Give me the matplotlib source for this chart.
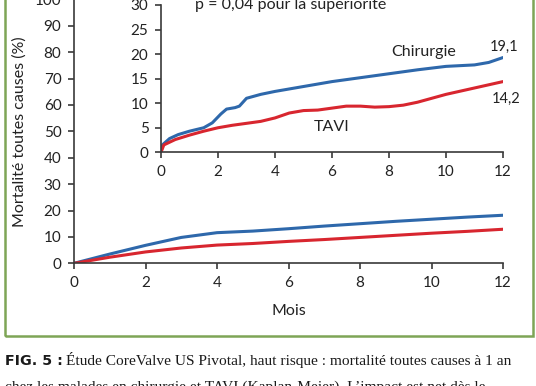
import matplotlib
matplotlib.use("Agg")
import matplotlib.pyplot as plt
from matplotlib.patches import Rectangle

plt.rcParams['font.family'] = ['Lato', 'DejaVu Sans']

# main chart (0-100 %)
months = [0, 1, 2, 3, 4, 5, 6, 7, 8, 9, 10, 11, 12]
chir_main = [0, 3.5, 6.8, 9.8, 11.6, 12.2, 13.1, 14.1, 15.0, 15.9, 16.7, 17.5, 18.2]
tavi_main = [0, 2.3, 4.3, 5.8, 6.9, 7.5, 8.3, 9.0, 9.8, 10.6, 11.4, 12.1, 12.9]

# zoomed inset (0-30 %)
m_chir = [0, 0.05, 0.3, 0.6, 1.0, 1.5, 1.8, 2.1, 2.3, 2.6, 2.75, 3.0, 3.5, 4, 5, 6, 7, 8, 9, 10, 11, 11.5, 12]
chir_ins = [0, 1.5, 2.8, 3.6, 4.3, 5.0, 6.0, 7.8, 8.8, 9.1, 9.4, 11.0, 11.8, 12.4, 13.4, 14.4, 15.2, 16.0, 16.8, 17.5, 17.8, 18.3, 19.3]
m_tavi = [0, 0.1, 0.5, 1, 1.5, 2, 2.5, 3, 3.5, 4, 4.5, 5, 5.5, 6, 6.5, 7, 7.5, 8, 8.5, 9, 10, 11, 12]
tavi_ins = [0, 1.5, 2.6, 3.5, 4.3, 5.0, 5.5, 5.9, 6.3, 7.0, 8.0, 8.5, 8.6, 9.0, 9.4, 9.4, 9.2, 9.3, 9.6, 10.2, 11.8, 13.1, 14.4]

blue = '#2e68ab'
red = '#d8262f'
grey = '#3a3a3a'
txt = '#222222'

fig = plt.figure(figsize=(5.36, 3.86), dpi=100)

# green frame
fig.patches.append(Rectangle((5 / 536, 1 - 336 / 386), 528 / 536, 336 / 386 + 0.05,
                             transform=fig.transFigure, fill=False,
                             edgecolor='#7ea556', linewidth=1.8))

ax = fig.add_axes([74 / 536, (386 - 263.3) / 386, 429 / 536, 264 / 386])
ax.plot(months, chir_main, color=blue, lw=2.2, solid_capstyle='round')
ax.plot(months, tavi_main, color=red, lw=2.2, solid_capstyle='round')
ax.set_xlim(0, 12)
ax.set_ylim(0, 100)
ax.set_xticks(range(0, 13, 2))
ax.set_yticks(range(0, 101, 10))
for s in ['top', 'right']:
    ax.spines[s].set_visible(False)
for s in ['left', 'bottom']:
    ax.spines[s].set_color(grey)
    ax.spines[s].set_linewidth(1.2)
ax.tick_params(colors=grey, labelcolor=txt, labelsize=11, length=4, width=1.2, pad=5)
ax.set_ylabel('Mortalité toutes causes (%)', fontsize=11.5, color=txt, labelpad=6)
ax.set_xlabel('Mois', fontsize=11.5, color=txt, labelpad=10)
ax.patch.set_visible(False)

ins = fig.add_axes([161 / 536, (386 - 152.3) / 386, 342 / 536, 147.3 / 386])
ins.plot(m_chir, chir_ins, color=blue, lw=2.2, solid_capstyle='round')
ins.plot(m_tavi, tavi_ins, color=red, lw=2.2, solid_capstyle='round')
ins.set_xlim(0, 12)
ins.set_ylim(0, 30)
ins.set_xticks(range(0, 13, 2))
ins.set_yticks(range(0, 31, 5))
for s in ['top', 'right']:
    ins.spines[s].set_visible(False)
for s in ['left', 'bottom']:
    ins.spines[s].set_color(grey)
    ins.spines[s].set_linewidth(1.2)
ins.tick_params(colors=grey, labelcolor=txt, labelsize=11, length=4, width=1.2, pad=5)
ins.patch.set_visible(False)

ins.text(9.2, 20.4, 'Chirurgie', fontsize=11.5, color=txt, ha='center', va='center')
ins.text(12.05, 21.4, '19,1', fontsize=10.5, color=txt, ha='center', va='center')
ins.text(12.1, 10.8, '14,2', fontsize=10.5, color=txt, ha='center', va='center')
ins.text(6.0, 5.2, 'TAVI', fontsize=11.5, color=txt, ha='center', va='center')
fig.text(291 / 536, 1 - 5 / 386, 'p = 0,04 pour la supériorité', fontsize=11.5,
         color=txt, ha='center', va='center')

# caption
fig.text(5 / 536, 1 - 365 / 386, 'FIG. 5 :', fontsize=10.3, fontweight='bold',
         family='DejaVu Sans', color='#1a1a1a', va='baseline')
fig.text(66 / 536, 1 - 365 / 386,
         'Étude CoreValve US Pivotal, haut risque : mortalité toutes causes à 1 an',
         fontsize=11.1, family='Liberation Serif', color='#1a1a1a', va='baseline')
fig.text(5 / 536, 1 - 391 / 386,
         'chez les malades en chirurgie et TAVI (Kaplan-Meier). L\u2019impact est net dès le',
         fontsize=11.1, family='Liberation Serif', color='#1a1a1a', va='baseline')

fig.savefig('out.png', dpi=100)
